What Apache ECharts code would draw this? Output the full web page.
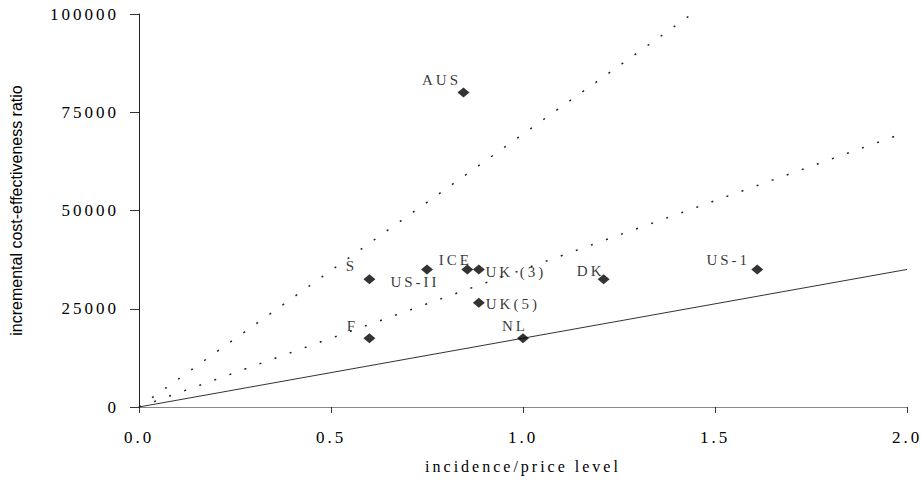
<!DOCTYPE html>
<html>
<head>
<meta charset="utf-8">
<script src="https://cdn.jsdelivr.net/npm/echarts@6/dist/echarts.min.js"></script>
<style>
html, body { margin: 0; padding: 0; background: #fff; }
#main { width: 921px; height: 488px; }
/* the scanned figure uses a widely spaced serif */
#main svg text { letter-spacing: 3px; }
#main svg text[style*="Sans"] { letter-spacing: 0; }
</style>
</head>
<body>
<div id="main"></div>
<script>
var countries = ['AUS', 'S', 'US-II', 'ICE', 'UK (3)', 'UK(5)', 'DK', 'US-1', 'F', 'NL'];
var incidence = [0.845, 0.6, 0.75, 0.855, 0.885, 0.885, 1.21, 1.61, 0.6, 1.0];
var icer = [80000, 32500, 35000, 35000, 35000, 26500, 32500, 35000, 17500, 17500];
var xTicks = [0, 0.5, 1.0, 1.5, 2.0];
var yTicks = [0, 25000, 50000, 75000, 100000];
// reference lines from the origin
var lineSolid = [[0, 0], [2.0, 35000]];
var lineDotMid = [[0, 0], [2.0, 70000]];
var lineDotSteep = [[0, 0], [1.44, 100000]];

// where each country label sits relative to its marker
var labelShift = {
    'AUS': [-22, -13],
    'S': [-18, -13],
    'US-II': [-12, 13],
    'ICE': [-12, -9],
    'UK (3)': [37, 3],
    'UK(5)': [34, 1],
    'DK': [-13, -8],
    'US-1': [-29, -9],
    'F': [-17, -12],
    'NL': [-8, -12]
};

var serif = 'Liberation Serif';

var points = countries.map(function (c, i) {
    return {
        name: c,
        value: [incidence[i], icer[i]],
        label: { offset: labelShift[c] }
    };
});

var myChart = echarts.init(document.getElementById('main'), null, { renderer: 'svg' });
myChart.setOption({
    animation: false,
    grid: { left: 138, right: 14, top: 14, bottom: 81 },
    xAxis: {
        type: 'value',
        min: xTicks[0],
        max: xTicks[xTicks.length - 1],
        interval: xTicks[1] - xTicks[0],
        name: 'incidence/price level',
        nameLocation: 'middle',
        nameGap: 51,
        nameTextStyle: { fontFamily: serif, fontSize: 16, color: '#000' },
        axisLine: { lineStyle: { color: '#888', width: 1 } },
        axisTick: { length: 6, lineStyle: { color: '#333' } },
        axisLabel: {
            margin: 22,
            fontFamily: serif,
            fontSize: 17,
            color: '#000',
            formatter: function (v) { return v.toFixed(1); }
        },
        splitLine: { show: false }
    },
    yAxis: {
        type: 'value',
        min: yTicks[0],
        max: yTicks[yTicks.length - 1],
        interval: yTicks[1] - yTicks[0],
        name: 'incremental cost-effectiveness ratio',
        nameLocation: 'middle',
        nameGap: 115,
        nameTextStyle: {
            fontFamily: 'Liberation Sans',
            fontSize: 16,
            color: '#000'
        },
        axisLine: { show: true, lineStyle: { color: '#222', width: 1 } },
        axisTick: { show: true, length: 9, lineStyle: { color: '#333' } },
        axisLabel: {
            margin: 20,
            fontFamily: serif,
            fontSize: 17,
            color: '#000',
            formatter: function (v) { return String(v); }
        },
        splitLine: { show: false }
    },
    series: [
        {
            type: 'line',
            data: lineSolid,
            showSymbol: false,
            silent: true,
            lineStyle: { color: '#333', width: 1 },
            z: 1
        },
        {
            type: 'line',
            data: lineDotMid,
            showSymbol: false,
            silent: true,
            lineStyle: { color: '#222', width: 1.5, type: [2, 14] },
            z: 1
        },
        {
            type: 'line',
            data: lineDotSteep,
            showSymbol: false,
            silent: true,
            lineStyle: { color: '#222', width: 1.5, type: [2, 14] },
            z: 1
        },
        {
            type: 'scatter',
            data: points,
            symbol: 'diamond',
            symbolSize: [12, 10],
            itemStyle: { color: '#000' },
            label: {
                show: true,
                position: 'inside',
                formatter: '{b}',
                fontFamily: serif,
                fontSize: 15,
                color: '#000'
            },
            z: 3
        }
    ]
});
</script>
</body>
</html>
